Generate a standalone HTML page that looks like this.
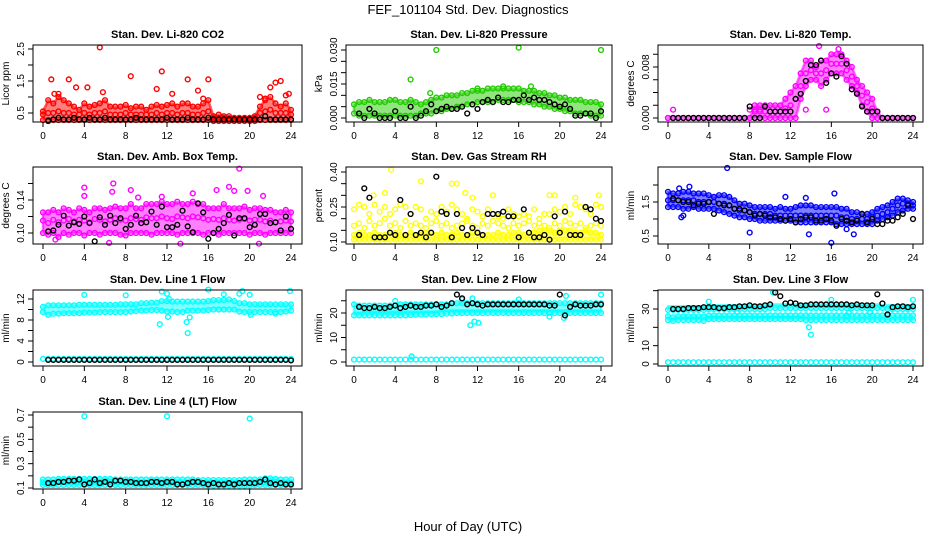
<!DOCTYPE html>
<html><head><meta charset="utf-8">
<style>
html,body{margin:0;padding:0;background:#fff;}
svg{display:block;font-family:"Liberation Sans",sans-serif;}
</style></head>
<body>
<svg id="chart" width="936" height="540" viewBox="0 0 936 540" xmlns="http://www.w3.org/2000/svg">
<rect width="936" height="540" fill="#fff"/>
<text x="468" y="14" text-anchor="middle" font-size="13">FEF_101104  Std. Dev. Diagnostics</text>
<text x="468" y="531" text-anchor="middle" font-size="13">Hour of Day (UTC)</text>
</svg>
<script>
// ---- data (colored clouds sampled every 0.5 h from 0; black every 0.5 h from 0.5) ----
const xTicks = [0,4,8,12,16,20,24];
// P1 CO2
const co2Lo = [0.28,0.28,0.28,0.28,0.28,0.28,0.28,0.28,0.28,0.28,0.28,0.28,0.28,0.28,0.28,0.28,0.28,0.28,0.28,0.28,0.28,0.28,0.28,0.28,0.28,0.28,0.28,0.28,0.28,0.28,0.28,0.28,0.28,0.25,0.25,0.25,0.25,0.25,0.25,0.25,0.25,0.25,0.28,0.28,0.28,0.28,0.28,0.28,0.28];
const co2Mid = [0.45,0.5,0.5,0.55,0.5,0.5,0.45,0.45,0.5,0.45,0.5,0.5,0.55,0.45,0.45,0.45,0.5,0.45,0.45,0.45,0.45,0.45,0.5,0.45,0.5,0.5,0.45,0.5,0.5,0.45,0.45,0.5,0.55,0.35,0.35,0.35,0.33,0.33,0.33,0.33,0.33,0.35,0.5,0.55,0.6,0.5,0.5,0.5,0.45];
const co2Hi = [0.55,0.9,0.8,1.0,0.9,0.8,0.7,0.6,0.8,0.7,0.75,0.8,0.9,0.7,0.7,0.7,0.75,0.65,0.7,0.7,0.6,0.7,0.75,0.7,0.75,0.8,0.7,0.8,0.8,0.7,0.7,0.8,0.9,0.4,0.45,0.4,0.4,0.35,0.35,0.35,0.35,0.4,0.7,0.9,1.0,0.8,0.7,0.8,0.6];
const co2Out = [[0.8,1.55],[1.1,1.1],[1.5,1.1],[2.5,1.55],[3.2,1.3],[4.3,1.3],[5.5,2.55],[5.8,1.15],[8.5,1.65],[11.5,1.8],[11,1.25],[12.5,1.1],[14,1.55],[15,1.2],[15.5,0.95],[16,1.55],[21,1.0],[21.5,0.95],[22,1.3],[22.5,1.45],[23,1.5],[23.8,1.1],[23.5,1.05]];
const co2Black = [0.25,0.3,0.35,0.3,0.3,0.35,0.3,0.3,0.35,0.3,0.3,0.35,0.3,0.3,0.3,0.3,0.3,0.35,0.3,0.3,0.3,0.3,0.3,0.35,0.3,0.3,0.3,0.35,0.3,0.3,0.3,0.35,0.3,0.3,0.3,0.3,0.3,0.3,0.3,0.3,0.3,0.3,0.4,0.3,0.3,0.3,0.3,0.3];
// P2 pressure
const prLo = [0.002,0.001,0.001,0.001,0.001,0.001,0.001,0.001,0.001,0.001,0.001,0.001,0.001,0.002,0.002,0.002,0.003,0.003,0.004,0.004,0.005,0.005,0.006,0.006,0.007,0.007,0.007,0.007,0.008,0.008,0.008,0.008,0.007,0.007,0.007,0.006,0.006,0.005,0.005,0.004,0.004,0.003,0.003,0.002,0.002,0.002,0.001,0.001,0.001];
const prHi = [0.006,0.007,0.007,0.008,0.007,0.007,0.007,0.008,0.008,0.007,0.007,0.008,0.007,0.006,0.007,0.008,0.009,0.009,0.010,0.010,0.010,0.011,0.011,0.012,0.012,0.012,0.013,0.013,0.013,0.013,0.013,0.013,0.013,0.012,0.012,0.012,0.011,0.011,0.010,0.010,0.009,0.009,0.008,0.008,0.008,0.007,0.007,0.007,0.006];
const prOut = [[8,0.030],[16,0.031],[24,0.030],[5.5,0.017],[7.4,0.011],[12,0.013],[14.5,0.014],[17.2,0.014]];
const prBlack = [0.002,0.000,0.004,0.002,0.000,0.000,0.000,0.003,0.000,0.000,0.005,0.000,0.001,0.003,0.006,0.003,0.004,0.005,0.004,0.004,0.005,0.002,0.006,0.004,0.007,0.008,0.007,0.009,0.007,0.007,0.008,0.008,0.010,0.008,0.009,0.008,0.008,0.007,0.006,0.005,0.006,0.004,0.001,0.001,0.002,0.002,0.000,0.003];
// P3 Li-820 temp
const tLo = [0,0,0,0,0,0,0,0,0,0,0,0,0,0,0,0,0,0,0,0,0,0,0,0,0,0,0.003,0.005,0.006,0.006,0.005,0.006,0.007,0.007,0.007,0.006,0.005,0.004,0.002,0.001,0,0,0,0,0,0,0,0,0];
const tMid = [0,0,0,0,0,0,0,0,0,0,0,0,0,0,0,0,0,0.001,0.001,0.001,0.001,0.001,0.001,0.0015,0.002,0.003,0.005,0.007,0.0075,0.007,0.007,0.0075,0.0085,0.0085,0.0085,0.0075,0.0065,0.005,0.0035,0.0025,0.0015,0.001,0,0,0,0,0,0,0];
const tHi = [0,0,0,0,0,0,0,0,0,0,0,0,0,0,0,0,0,0.002,0.002,0.002,0.002,0.002,0.002,0.003,0.004,0.005,0.007,0.009,0.009,0.008,0.009,0.009,0.010,0.010,0.010,0.009,0.008,0.006,0.005,0.004,0.003,0.001,0,0,0,0,0,0,0];
const tOut = [[0.5,0.0013],[8,0.0013],[8.5,0.0013],[9,0.0013],[13.5,0.0013],[15.5,0.0013],[18,0.0045],[14.8,0.0113],[16.7,0.0108]];
const tBlack = [0,0,0,0,0,0,0,0,0,0,0,0,0,0,0,0.0018,0,0,0.0018,0.001,0.001,0.001,0.001,0.001,0.003,0.0038,0.0058,0.0083,0.0083,0.009,0.0055,0.007,0.0065,0.0097,0.0085,0.0045,0.0038,0.0018,0.001,0.001,0.001,0,0,0,0,0,0,0];
// P4 amb box temp
const abLo = [0.100,0.098,0.100,0.095,0.100,0.098,0.100,0.100,0.097,0.100,0.100,0.098,0.100,0.100,0.100,0.098,0.097,0.100,0.100,0.100,0.100,0.098,0.100,0.100,0.100,0.100,0.098,0.100,0.100,0.100,0.100,0.098,0.100,0.100,0.098,0.100,0.100,0.100,0.100,0.100,0.098,0.100,0.100,0.098,0.100,0.100,0.100,0.100,0.100];
const abMid = [0.115,0.112,0.116,0.113,0.115,0.117,0.114,0.116,0.115,0.113,0.117,0.116,0.114,0.116,0.118,0.116,0.115,0.118,0.117,0.116,0.119,0.118,0.118,0.120,0.118,0.117,0.120,0.119,0.118,0.120,0.119,0.118,0.116,0.117,0.116,0.118,0.116,0.115,0.116,0.117,0.115,0.116,0.116,0.114,0.115,0.113,0.114,0.115,0.114];
const abHi = [0.125,0.125,0.128,0.125,0.130,0.128,0.125,0.130,0.128,0.125,0.130,0.130,0.128,0.130,0.132,0.130,0.130,0.135,0.130,0.130,0.135,0.135,0.135,0.138,0.135,0.135,0.138,0.135,0.135,0.138,0.135,0.135,0.130,0.130,0.130,0.135,0.130,0.130,0.130,0.132,0.128,0.130,0.130,0.128,0.128,0.125,0.125,0.128,0.125];
const abOut = [[4,0.155],[4,0.145],[6.8,0.160],[6.7,0.150],[8.5,0.152],[14.5,0.148],[16.8,0.152],[18,0.156],[18.5,0.151],[19,0.178],[19.8,0.151],[21.3,0.145],[13.3,0.087],[20.9,0.087],[1.2,0.092],[6.4,0.088],[9.2,0.143],[11.5,0.144]];
const abBlack = [0.102,0.103,0.110,0.121,0.109,0.113,0.111,0.120,0.112,0.090,0.119,0.110,0.121,0.112,0.118,0.105,0.110,0.121,0.112,0.113,0.126,0.110,0.132,0.107,0.107,0.110,0.127,0.108,0.101,0.136,0.125,0.093,0.100,0.105,0.112,0.122,0.097,0.118,0.118,0.107,0.110,0.123,0.123,0.112,0.113,0.103,0.120,0.105];
// P5 RH
const rhLo = [0.11,0.11,0.11,0.11,0.11,0.11,0.11,0.11,0.11,0.11,0.11,0.11,0.11,0.11,0.11,0.11,0.11,0.11,0.11,0.11,0.11,0.11,0.11,0.11,0.11,0.11,0.11,0.11,0.11,0.11,0.11,0.11,0.11,0.11,0.11,0.11,0.11,0.11,0.11,0.11,0.11,0.11,0.11,0.11,0.11,0.11,0.11,0.11,0.11];
const rhMid = [0.13,0.14,0.13,0.13,0.14,0.13,0.13,0.14,0.14,0.13,0.13,0.14,0.13,0.13,0.14,0.14,0.13,0.14,0.13,0.13,0.14,0.13,0.13,0.14,0.14,0.13,0.13,0.13,0.14,0.13,0.13,0.14,0.14,0.13,0.14,0.14,0.15,0.15,0.15,0.14,0.15,0.15,0.15,0.14,0.14,0.15,0.14,0.14,0.13];
const rhUp1 = [0.17,0.18,0.16,0.19,0.17,0.18,0.20,0.17,0.18,0.16,0.19,0.17,0.18,0.17,0.16,0.18,0.19,0.17,0.18,0.16,0.17,0.18,0.19,0.17,0.16,0.18,0.17,0.19,0.18,0.17,0.16,0.18,0.17,0.18,0.19,0.17,0.18,0.17,0.16,0.18,0.17,0.19,0.18,0.17,0.18,0.16,0.17,0.18,0.17];
const rhUp2 = [0.24,0.26,0.25,0.22,0.26,0.23,0.25,0.22,0.24,0.26,0.25,0.22,0.25,0.24,0.20,0.23,0.22,0.25,0.23,0.26,0.24,0.22,0.20,0.24,0.23,0.21,0.24,0.22,0.21,0.20,0.24,0.22,0.21,0.22,0.21,0.24,0.20,0.22,0.22,0.24,0.23,0.25,0.22,0.26,0.25,0.24,0.22,0.26,0.25];
const rhOut = [[3.6,0.41],[6.5,0.36],[9.5,0.35],[10,0.35],[3,0.31],[1.9,0.30],[10.8,0.31],[13.5,0.30],[19,0.30],[19.5,0.30],[21.5,0.29],[23.8,0.30],[11.5,0.29]];
const rhBlack = [0.13,0.33,0.29,0.12,0.12,0.12,0.14,0.13,0.28,0.13,0.22,0.13,0.14,0.12,0.14,0.38,0.23,0.22,0.12,0.22,0.16,0.13,0.16,0.14,0.13,0.22,0.22,0.22,0.23,0.21,0.21,0.12,0.24,0.14,0.12,0.12,0.13,0.11,0.21,0.14,0.23,0.13,0.13,0.13,0.25,0.24,0.20,0.19];
// P6 sample flow
const sfLo = [1.35,1.35,1.35,1.3,1.3,1.35,1.3,1.3,1.3,1.3,1.25,1.2,1.15,1.1,1.05,1.05,1.0,1.0,0.95,0.95,0.95,0.95,0.95,0.95,0.95,0.9,0.9,0.9,0.9,0.9,0.9,0.9,0.9,0.85,0.85,0.85,0.85,0.85,0.85,0.85,0.85,0.95,1.0,1.05,1.1,1.2,1.25,1.3,1.3];
const sfMid = [1.55,1.55,1.55,1.55,1.55,1.55,1.5,1.5,1.5,1.5,1.45,1.45,1.4,1.3,1.25,1.25,1.2,1.15,1.15,1.15,1.15,1.1,1.1,1.1,1.1,1.1,1.1,1.1,1.1,1.1,1.1,1.1,1.1,1.1,1.05,1.05,1.0,1.0,1.0,1.0,1.05,1.1,1.15,1.2,1.3,1.4,1.45,1.45,1.4];
const sfHi = [1.8,1.75,1.75,1.8,1.8,1.75,1.75,1.75,1.7,1.65,1.7,1.7,1.65,1.55,1.45,1.45,1.4,1.35,1.35,1.35,1.35,1.3,1.35,1.3,1.3,1.35,1.4,1.4,1.4,1.35,1.35,1.35,1.35,1.35,1.3,1.3,1.2,1.2,1.15,1.15,1.2,1.3,1.35,1.4,1.5,1.6,1.6,1.55,1.5];
const sfOut = [[5.8,2.5],[1.3,1.05],[1.5,1.1],[8,0.6],[13.8,0.55],[16,0.3],[18.2,0.55],[17.5,0.7],[16.3,1.75],[2.1,1.95],[1.1,1.9],[11.5,1.65],[13.5,1.62]];
const sfBlack = [1.6,1.55,1.5,1.5,1.4,1.45,1.45,1.5,1.15,1.45,1.4,1.4,1.3,1.3,1.25,1.2,1.1,1.15,1.1,1.05,1.05,1.0,0.95,1.0,0.9,1.0,1.05,1.05,0.95,0.95,1.0,0.95,0.8,1.0,0.95,0.9,0.95,1.15,0.9,1.0,0.85,0.85,0.95,0.95,1.05,1.15,1.4,1.0];
// P7 line 1 flow
const l1Lo = [9.5,9.0,9.2,9.2,9.3,9.3,9.3,9.3,9.4,9.4,9.4,9.5,9.5,9.5,9.5,9.5,9.5,9.6,9.7,9.8,9.8,9.9,9.9,9.8,9.6,9.6,9.5,9.5,9.8,9.8,9.8,9.8,9.9,10,10,10,10,10,9.6,9.5,9.5,9.5,9.5,9.5,9.5,9.5,9.5,9.6,9.8];
const l1Hi = [10.5,10.8,10.8,10.8,10.8,10.8,10.8,10.9,10.9,10.9,10.9,10.9,10.9,10.9,10.9,11,11,11,11,11.2,11.2,11.3,11.3,11.6,11.6,11.5,11.5,11.5,11.5,11.5,11.5,11.5,11.6,11.8,11.8,11.8,11.9,11.6,11.2,11.2,11,11,11,11,11,11,11,11,11];
const l1Base = [0.6,0.6,0.6,0.6,0.6,0.6,0.6,0.6,0.6,0.6,0.6,0.6,0.6,0.6,0.6,0.6,0.6,0.6,0.6,0.6,0.6,0.6,0.6,0.6,0.6,0.6,0.6,0.6,0.6,0.6,0.6,0.6,0.6,0.6,0.6,0.6,0.6,0.6,0.6,0.6,0.6,0.6,0.6,0.6,0.6,0.6,0.6,0.6,0.6];
const l1Out = [[4,12.8],[8,12.7],[11.5,13.4],[12,13],[12.2,12],[12.1,8.6],[11.3,7.2],[13.9,7.6],[14,5.5],[14.2,8.5],[16,13.8],[17.5,12.9],[19,13],[19.3,13.5],[20,12.8],[20.1,9],[22.5,9.2],[23.9,13.5]];
const l1Black = [0.4,0.4,0.4,0.4,0.4,0.4,0.4,0.4,0.4,0.4,0.4,0.4,0.4,0.4,0.4,0.4,0.4,0.4,0.4,0.4,0.4,0.4,0.4,0.4,0.4,0.4,0.4,0.4,0.4,0.4,0.4,0.4,0.4,0.4,0.4,0.4,0.4,0.4,0.4,0.4,0.4,0.4,0.4,0.4,0.4,0.4,0.4,0.3];
// P8 line 2 flow
const l2Lo = [19,19,19,19,19,19,19,19,19,19,19,19.2,19.3,19.3,19.4,19.5,19.5,19.6,19.7,19.8,20,20,20,20,20,20,20,20,20,20,20,20,20,20,20,20,20,20,20,20,20,20,20,20,20,20,20,20,20];
const l2Mid = [20,20,20.5,20.5,20.5,20.5,20.5,20.5,20.5,20.5,20.5,20.5,20.5,20.5,20.5,20.5,20.5,21,21,21,21,21,21,21,21,21,21,21,21,21,21,21,21,21,21,21,21,21,21,21,21,21,21,21,21,21,21,21,21];
const l2Hi = [23.5,23,23,23,23,23,23,23,23,23.5,23.5,23.5,23.5,23.5,23.5,23.5,23.5,23.5,23.5,24,24,24,24,24,24,24,24,24,24,24,24,24,24,24,24,24,24,24,24,24,24,24,24,24,24,24,24,24,24];
const l2Base = [1,1,1,1,1,1,1,1,1,1,1,1,1,1,1,1,1,1,1,1,1,1,1,1,1,1,1,1,1,1,1,1,1,1,1,1,1,1,1,1,1,1,1,1,1,1,1,1,1];
const l2Out = [[11.3,15],[11.7,16.5],[12.1,16],[10.5,25.5],[11.5,26],[4,25],[5.6,2.3],[19,18.5],[20.4,18],[20.6,27],[24,27.5],[16,25.5]];
const l2Black = [22.5,22,22,22.5,22,22,22.5,23,22,22.5,23,22.5,22.5,23,23,23.5,22.5,23,24,27.5,26,23.5,24,23.5,23,23.5,23.5,23.5,23.5,23.5,23.5,23.5,23.5,23.5,23.5,23.5,23.5,23,23,27.5,19,22.5,23.5,23,23,23,23.5,23.5];
// P9 line 3 flow
const l3Lo = [24,23.5,24,24,24,24,24,23.5,24.5,24.5,24.5,24.5,24.5,24.5,24.5,24.5,24.5,24.5,24.5,24.5,24.5,24.5,24.5,24.5,24.5,24.5,24.5,24,24,24,24,24,24,24,24,24,24,24,24,24,24,24,24,24,24,24,24,24,24];
const l3Mid = [26,25.5,26,26,26,26,26,26,26.5,26.5,26.5,26.5,26.5,26.5,26.5,26.5,26.5,26.5,26.5,26.5,26.5,26.5,26.5,26.5,26.5,26.5,26.5,26.5,26.5,26.5,26.5,26.5,26.5,26.5,26.5,26.5,26.5,26.5,26.5,26.5,26.5,26.5,26.5,26.5,26.5,26.5,26.5,26.5,26.5];
const l3Up = [29.5,29.5,29.5,29.5,29.5,29.5,29.5,29.5,30,30,30,30,30,30,30,30,30,30,30,30,30.5,30.5,30.5,30.5,30.5,30.5,30.5,30.5,30.5,30.5,30.5,30.5,30.5,30.5,30.5,30.5,30.5,30.5,30.5,30.5,30.5,30.5,30.5,30,30,30,30,30,30];
const l3Hi = [31.5,31.5,31.5,31.5,31.5,31.5,31.5,31.5,32,32,32,32,32,32,32,32,32,32,32,32,32.5,32.5,32.5,32.5,32.5,32.5,32.5,32.5,32.5,32.5,32.5,32.5,32.5,32.5,32.5,32.5,32.5,32.5,32.5,32.5,32.5,32.5,32,32,32,32,32,32,32];
const l3Base = [1,1,1,1,1,1,1,1,1,1,1,1,1,1,1,1,1,1,1,1,1,1,1,1,1,1,1,1,1,1,1,1,1,1,1,1,1,1,1,1,1,1,1,1,1,1,1,1,1];
const l3Out = [[10.3,39],[13.8,20],[14,16],[17.5,26],[17.7,28],[19.8,28],[24,35],[16,35],[6.8,28.5],[4,34]];
const l3Black = [30,30,30,30.5,30.5,30.5,31,31,31,30.5,30.5,31,31,31.5,31.5,32,31.5,31.5,32,32.5,39,37,33,33.5,33,32,32,32.5,32.5,32.5,32.5,32.5,32.5,32.5,32.5,32,32.5,32,32,32,38,33,27,31,31.5,31.5,31,31.5];
// P10 line 4 flow
const l4Lo = [0.125,0.125,0.125,0.125,0.125,0.125,0.125,0.125,0.125,0.125,0.125,0.125,0.125,0.125,0.125,0.125,0.125,0.125,0.125,0.125,0.125,0.125,0.125,0.125,0.125,0.125,0.125,0.125,0.125,0.125,0.125,0.125,0.12,0.12,0.12,0.12,0.12,0.12,0.12,0.12,0.12,0.125,0.125,0.125,0.125,0.125,0.125,0.125,0.125];
const l4Mid = [0.145,0.145,0.145,0.15,0.15,0.15,0.15,0.15,0.15,0.15,0.15,0.15,0.15,0.15,0.15,0.15,0.145,0.145,0.145,0.145,0.145,0.145,0.145,0.145,0.145,0.145,0.145,0.145,0.145,0.145,0.145,0.14,0.14,0.14,0.14,0.14,0.14,0.14,0.14,0.14,0.145,0.145,0.145,0.15,0.15,0.15,0.145,0.145,0.145];
const l4Hi = [0.17,0.17,0.17,0.175,0.175,0.175,0.175,0.175,0.175,0.175,0.175,0.175,0.175,0.175,0.17,0.17,0.17,0.17,0.17,0.17,0.17,0.17,0.17,0.17,0.17,0.17,0.17,0.17,0.17,0.17,0.165,0.165,0.165,0.165,0.165,0.165,0.165,0.165,0.165,0.17,0.17,0.17,0.17,0.18,0.18,0.175,0.17,0.17,0.17];
const l4Out = [[4,0.69],[12,0.69],[20,0.67]];
const l4Black = [0.14,0.14,0.15,0.15,0.16,0.16,0.17,0.13,0.14,0.17,0.14,0.15,0.13,0.16,0.16,0.15,0.15,0.14,0.14,0.14,0.15,0.15,0.14,0.15,0.15,0.13,0.13,0.14,0.15,0.15,0.14,0.13,0.14,0.13,0.13,0.14,0.13,0.14,0.14,0.14,0.14,0.15,0.17,0.14,0.13,0.14,0.13,0.13];

// ---- rendering ----
const svg = document.getElementById('chart');
const NS = 'http://www.w3.org/2000/svg';
function mk(tag, attrs, parent){
  const e = document.createElementNS(NS, tag);
  for (const k in attrs) e.setAttribute(k, attrs[k]);
  (parent||svg).appendChild(e);
  return e;
}
const COLS = [{l:33,r:302,x0:43,x1:291},{l:346,r:612,x0:354,x1:601},{l:658,r:923,x0:668,x1:913}];
const ROWS = [{t:45,b:122},{t:167,b:244},{t:290,b:366},{t:412,b:489}];

function panel(p){
  const C = COLS[p.col], R = ROWS[p.row];
  const g = mk('g', {});
  
  
  const xs = h => C.x0 + (C.x1 - C.x0) * h / 24;
  const ys = v => p.py0 + (v - p.v0) * (p.py1 - p.py0) / (p.v1 - p.v0);
  (p.bands||[]).forEach(b => {
    const [lo, hi, col] = b;
    let d = '';
    lo.forEach((v,i)=>{ d += (i?'L':'M') + xs(i*0.5).toFixed(1) + ',' + ys(v).toFixed(1); });
    for (let i = hi.length-1; i >= 0; i--) d += 'L' + xs(i*0.5).toFixed(1) + ',' + ys(hi[i]).toFixed(1);
    const path = mk('path', {d: d+'Z', fill: col, 'fill-opacity': 0.5, stroke: col, 'stroke-opacity': 0.6, 'stroke-width': 2.5, 'stroke-linejoin':'round'}, g);
    
    
  });
  const dot = (x, y, col, nm) => {
    const c = mk('circle', {cx: xs(x).toFixed(1), cy: ys(y).toFixed(1), r: 2.4, fill: 'none', stroke: col, 'stroke-width': 1.4}, g);
    
    
  };
  (p.clouds||[]).forEach(arr => arr.forEach((v,i) => dot(i*0.5, v, p.color, 'data-point')));
  (p.out||[]).forEach(o => dot(o[0], o[1], p.color, 'outlier-point'));
  (p.black||[]).forEach((v,i) => dot((i+1)*0.5, v, '#000', 'mean-point'));
  const box = mk('rect', {x: C.l, y: R.t, width: C.r - C.l, height: R.b - R.t, fill: 'none', stroke: '#000', 'stroke-width': 1}, g);
  
  
  xTicks.forEach(h => {
    mk('line', {x1: xs(h), x2: xs(h), y1: R.b, y2: R.b+5, stroke: '#000'}, g);
    const t = mk('text', {x: xs(h), y: R.b+17, 'text-anchor': 'middle', 'font-size': 10}, g);
    
    
    t.textContent = h;
  });
  p.yt.forEach(v => {
    const y = ys(v);
    mk('line', {x1: C.l-5, x2: C.l, y1: y, y2: y, stroke: '#000'}, g);
  });
  p.yl.forEach(s => {
    const y = ys(parseFloat(s));
    const t = mk('text', {x: C.l-9, y: y, 'text-anchor': 'middle', 'font-size': 10, transform: 'rotate(-90 '+(C.l-9)+' '+y+')'}, g);
    
    
    t.textContent = s;
  });
  const cy = (R.t + R.b)/2, lx = C.l - 24;
  const yl = mk('text', {x: lx, y: cy, 'text-anchor': 'middle', 'font-size': 10, transform: 'rotate(-90 '+lx+' '+cy+')'}, g);
  
  
  yl.textContent = p.ylab;
  const tt = mk('text', {x: (C.l + C.r)/2, y: R.t - 7, 'text-anchor': 'middle', 'font-size': 11, 'font-weight': 'bold'}, g);
  
  
  tt.textContent = p.title;
}

const RED='#ff0000', GRN='#22cc00', MAG='#ff00ff', YEL='#ffff00', BLU='#0000ff', CYN='#00ffff';
panel({name:'panel-co2', col:0,row:0,title:'Stan. Dev. Li-820 CO2',ylab:'Licor ppm',color:RED,
  v0:0.5,v1:2.5,py0:113,py1:49,yt:[0.5,1,1.5,2,2.5],yl:['0.5','1.5','2.5'],
  bands:[[co2Lo,co2Hi,RED]],clouds:[co2Lo,co2Mid,co2Hi],out:co2Out,black:co2Black});
panel({name:'panel-pressure', col:1,row:0,title:'Stan. Dev. Li-820 Pressure',ylab:'kPa',color:GRN,
  v0:0,v1:0.03,py0:118,py1:50,yt:[0,0.005,0.01,0.015,0.02,0.025,0.03],yl:['0.000','0.015','0.030'],
  bands:[[prLo,prHi,GRN]],clouds:[prLo,prHi],out:prOut,black:prBlack});
panel({name:'panel-li820-temp', col:2,row:0,title:'Stan. Dev. Li-820 Temp.',ylab:'degrees C',color:MAG,
  v0:0,v1:0.008,py0:118,py1:67,yt:[0,0.002,0.004,0.006,0.008,0.01],yl:['0.000','0.008'],
  bands:[[tLo,tHi,MAG]],clouds:[tLo,tMid,tHi],out:tOut,black:tBlack});
panel({name:'panel-amb-box-temp', col:0,row:1,title:'Stan. Dev. Amb. Box Temp.',ylab:'degrees C',color:MAG,
  v0:0.10,v1:0.14,py0:233,py1:200,yt:[0.10,0.12,0.14,0.16],yl:['0.10','0.14'],
  bands:[[abLo,abHi,MAG]],clouds:[abLo,abMid,abHi],out:abOut,black:abBlack});
panel({name:'panel-gas-rh', col:1,row:1,title:'Stan. Dev. Gas Stream RH',ylab:'percent',color:YEL,
  v0:0.10,v1:0.40,py0:242,py1:172,yt:[0.10,0.15,0.20,0.25,0.30,0.35,0.40],yl:['0.10','0.25','0.40'],
  bands:[[rhLo,rhMid,YEL]],clouds:[rhLo,rhMid,rhUp1,rhUp2],out:rhOut,black:rhBlack});
panel({name:'panel-sample-flow', col:2,row:1,title:'Stan. Dev. Sample Flow',ylab:'ml/min',color:BLU,
  v0:0.5,v1:1.5,py0:236,py1:202,yt:[0.5,1,1.5,2],yl:['0.5','1.5'],
  bands:[[sfLo,sfHi,BLU]],clouds:[sfLo,sfMid,sfHi],out:sfOut,black:sfBlack});
panel({name:'panel-line1-flow', col:0,row:2,title:'Stan. Dev. Line 1 Flow',ylab:'ml/min',color:CYN,
  v0:0,v1:12,py0:362,py1:299,yt:[0,2,4,6,8,10,12],yl:['0','4','8','12'],
  bands:[[l1Lo,l1Hi,CYN]],clouds:[l1Lo,l1Hi,l1Base],out:l1Out,black:l1Black});
panel({name:'panel-line2-flow', col:1,row:2,title:'Stan. Dev. Line 2 Flow',ylab:'ml/min',color:CYN,
  v0:0,v1:20,py0:362,py1:313,yt:[0,5,10,15,20,25],yl:['0','10','20'],
  bands:[[l2Lo,l2Mid,CYN],[l2Mid,l2Hi,CYN]],clouds:[l2Lo,l2Hi,l2Base],out:l2Out,black:l2Black});
panel({name:'panel-line3-flow', col:2,row:2,title:'Stan. Dev. Line 3 Flow',ylab:'ml/min',color:CYN,
  v0:0,v1:30,py0:364,py1:309,yt:[0,10,20,30,40],yl:['0','10','30'],
  bands:[[l3Lo,l3Mid,CYN],[l3Up,l3Hi,CYN]],clouds:[l3Lo,l3Mid,l3Up,l3Base],out:l3Out,black:l3Black});
panel({name:'panel-line4-flow', col:0,row:3,title:'Stan. Dev. Line 4 (LT) Flow',ylab:'ml/min',color:CYN,
  v0:0.1,v1:0.7,py0:488,py1:415,yt:[0.1,0.2,0.3,0.4,0.5,0.6,0.7],yl:['0.1','0.3','0.5','0.7'],
  bands:[[l4Lo,l4Hi,CYN]],clouds:[l4Lo,l4Mid,l4Hi],out:l4Out,black:l4Black});
</script>
</body></html>
